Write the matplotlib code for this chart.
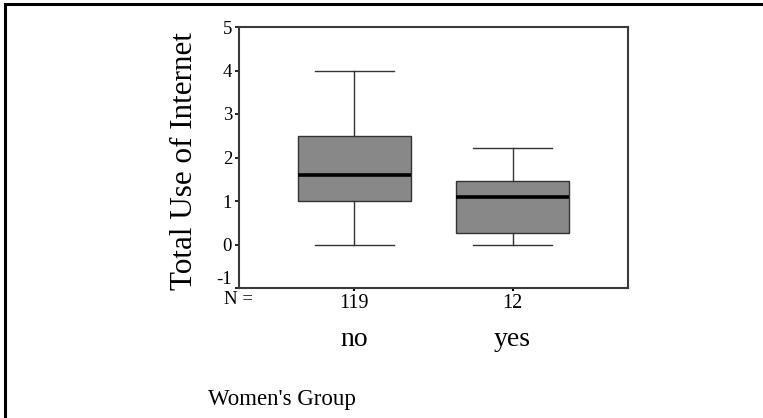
import matplotlib
matplotlib.use("Agg")
import matplotlib.pyplot as plt
from matplotlib.lines import Line2D

plt.rcParams['font.family'] = ['Liberation Serif', 'DejaVu Serif']

# Box summaries for each group
groups = ['no', 'yes']
counts = [119, 12]
whislo = [0.0, 0.0]
q1 = [1.0, 0.27]
med = [1.6, 1.1]
q3 = [2.5, 1.45]
whishi = [4.0, 2.22]
yticks = [-1, 0, 1, 2, 3, 4, 5]

stats = []
for i in range(len(groups)):
    stats.append(dict(label=str(counts[i]), whislo=whislo[i], q1=q1[i], med=med[i],
                      q3=q3[i], whishi=whishi[i], fliers=[]))

fig = plt.figure(figsize=(7.63, 4.18), dpi=100)
ax = fig.add_axes([239 / 763, 1 - 288 / 418, 389 / 763, 261 / 418])

ax.bxp(stats, positions=[1, 2], widths=0.715, patch_artist=True, showfliers=False,
       boxprops=dict(facecolor='#888888', edgecolor='#333333', linewidth=1),
       medianprops=dict(color='black', linewidth=2.6),
       whiskerprops=dict(color='#333333', linewidth=1),
       capprops=dict(color='#333333', linewidth=1),
       capwidths=0.5)

ax.set_xlim(0.27, 2.73)
ax.set_ylim(-1, 5)
ax.set_yticks(yticks)
ax.set_yticklabels([str(t) for t in yticks], fontsize=13.5)
# lowest label sits just above its tick
ax.get_yticklabels()[0].set_verticalalignment('bottom')
ax.set_xticks([1, 2])
ax.set_xticklabels([str(c) for c in counts], fontsize=14.5)
ax.tick_params(axis='y', length=3, width=1.2, pad=2, direction='out')
ax.tick_params(axis='x', length=2, width=1.5, pad=2, direction='out')

for s in ['left', 'bottom', 'top', 'right']:
    ax.spines[s].set_color('#3a3a3a')
    ax.spines[s].set_linewidth(1.5)

fig.text(184 / 763, 1 - 161 / 418, 'Total Use of Internet', fontsize=22.4, rotation=90,
         ha='center', va='center')

# N row label and group names under the axis
fig.text(224 / 763, 1 - 299 / 418, 'N =', fontsize=13.5, ha='left', va='center')
for pos, name in zip([1, 2], groups):
    ax.annotate(name, xy=(pos, 0), xycoords=('data', 'axes fraction'),
                xytext=(0, -37), textcoords='offset points', ha='center', va='center',
                fontsize=20)
fig.text(208 / 763, 1 - 399 / 418, "Women's Group", fontsize=16.5, ha='left', va='center')

# frame lines along the top and left edges
fig.add_artist(Line2D([5 / 763, 1], [1 - 4 / 418, 1 - 4 / 418], color='black', linewidth=2.2,
                      transform=fig.transFigure))
fig.add_artist(Line2D([5 / 763, 5 / 763], [0, 1 - 4 / 418], color='black', linewidth=2.2,
                      transform=fig.transFigure))

fig.savefig('out.png', dpi=100)
